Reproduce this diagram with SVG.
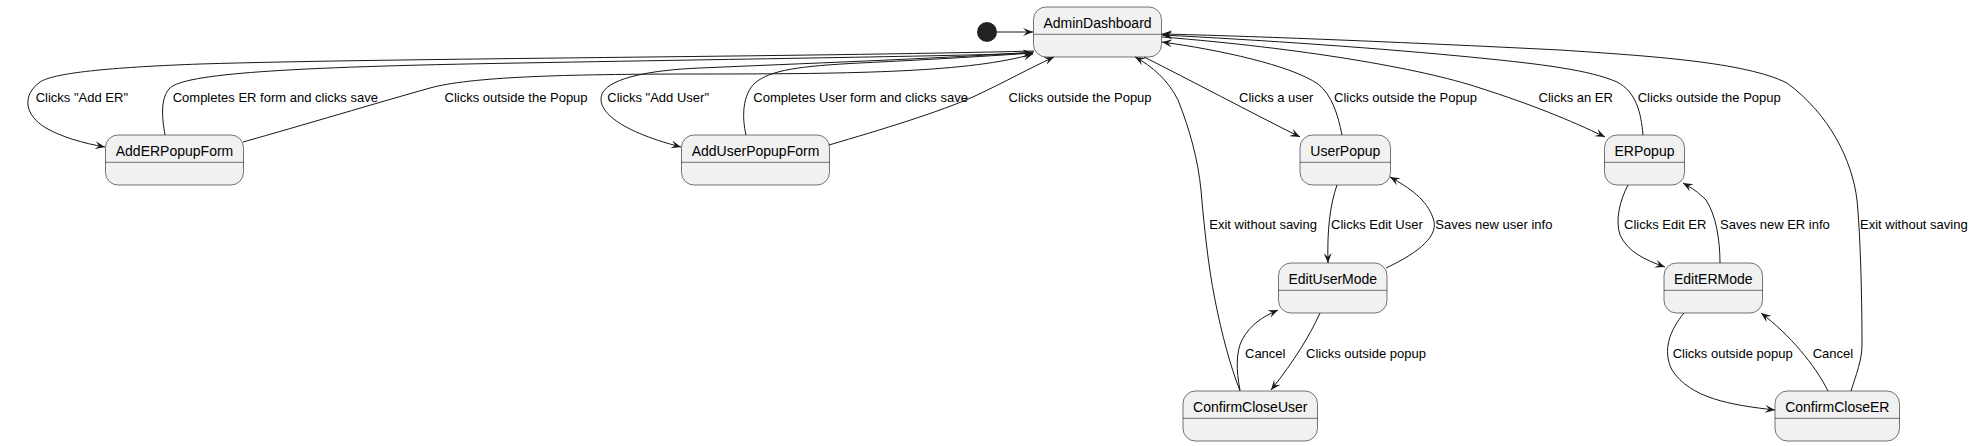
<svg xmlns="http://www.w3.org/2000/svg" width="1974" height="446" viewBox="0 0 1974 446">
<style>
.node rect{fill:#F1F1F1;stroke:#181818;stroke-width:0.6}
.node line{stroke:#181818;stroke-width:0.6}
.node text{font-family:"Liberation Sans",Arial,sans-serif;font-size:14px;fill:#000;text-anchor:middle}
.edges path{fill:none;stroke:#181818;stroke-width:1}
.lbl{font-family:"Liberation Sans",Arial,sans-serif;font-size:13px;fill:#000}
</style>
<defs>
<marker id="arr" viewBox="0 0 10 8" refX="10" refY="4" markerWidth="10" markerHeight="8" orient="auto" markerUnits="userSpaceOnUse">
<path d="M0,0 L10,4 L0,8 L4,4 Z" fill="#181818"/>
</marker>
</defs>
<rect width="1974" height="446" fill="#FFFFFF"/>
<g id="start"><circle cx="987" cy="32" r="10" fill="#222222"/></g>
<g id="AdminDashboard" class="node"><rect x="1033.5" y="7" width="128" height="50" rx="12.5"/><line x1="1033.5" y1="34.3" x2="1161.5" y2="34.3"/><text x="1097.5" y="28">AdminDashboard</text></g>
<g id="AddERPopupForm" class="node"><rect x="105.5" y="135" width="138" height="50" rx="12.5"/><line x1="105.5" y1="162.3" x2="243.5" y2="162.3"/><text x="174.5" y="156">AddERPopupForm</text></g>
<g id="AddUserPopupForm" class="node"><rect x="681.5" y="135" width="148" height="50" rx="12.5"/><line x1="681.5" y1="162.3" x2="829.5" y2="162.3"/><text x="755.5" y="156">AddUserPopupForm</text></g>
<g id="UserPopup" class="node"><rect x="1300" y="135" width="90.5" height="50" rx="12.5"/><line x1="1300" y1="162.3" x2="1390.5" y2="162.3"/><text x="1345.3" y="156">UserPopup</text></g>
<g id="ERPopup" class="node"><rect x="1604.5" y="135" width="80" height="50" rx="12.5"/><line x1="1604.5" y1="162.3" x2="1684.5" y2="162.3"/><text x="1644.5" y="156">ERPopup</text></g>
<g id="EditUserMode" class="node"><rect x="1278.5" y="263" width="108.5" height="50" rx="12.5"/><line x1="1278.5" y1="290.3" x2="1387" y2="290.3"/><text x="1332.8" y="284">EditUserMode</text></g>
<g id="EditERMode" class="node"><rect x="1664" y="263" width="98.5" height="50" rx="12.5"/><line x1="1664" y1="290.3" x2="1762.5" y2="290.3"/><text x="1713.3" y="284">EditERMode</text></g>
<g id="ConfirmCloseUser" class="node"><rect x="1183" y="391" width="134.5" height="50" rx="12.5"/><line x1="1183" y1="418.3" x2="1317.5" y2="418.3"/><text x="1250.3" y="412">ConfirmCloseUser</text></g>
<g id="ConfirmCloseER" class="node"><rect x="1775" y="391" width="124.5" height="50" rx="12.5"/><line x1="1775" y1="418.3" x2="1899.5" y2="418.3"/><text x="1837.3" y="412">ConfirmCloseER</text></g>
<g id="connectors" class="edges">
<path marker-end="url(#arr)" d="M997,32 L1033,32"/>
<path marker-end="url(#arr)" d="M1034,51 C 800,57 400,58 200,64 C 120,67 55,72 40,82 C 22,95 24,115 46,128 C 62,137 82,143 105,147"/>
<path marker-end="url(#arr)" d="M165,135 C 162,118 160,98 170,88 C 185,74 280,67 520,63 C 800,58 960,56 1033,53"/>
<path marker-end="url(#arr)" d="M243,142 C 300,126 380,102 430,88 C 470,77 560,74 700,74 C 860,74 970,72 1033,54"/>
<path marker-end="url(#arr)" d="M1034,52 C 950,58 840,62 700,68 C 650,70 612,78 603,92 C 594,108 615,130 681,147"/>
<path marker-end="url(#arr)" d="M746,135 C 742,118 742,95 755,83 C 770,70 800,66 860,63 C 940,59 990,56 1033,53"/>
<path marker-end="url(#arr)" d="M829,145 C 880,130 940,112 975,96 C 1005,82 1030,68 1054,57"/>
<path marker-end="url(#arr)" d="M1144,57 C 1190,80 1250,112 1300,137"/>
<path marker-end="url(#arr)" d="M1342,135 C 1338,115 1332,95 1318,84 C 1290,65 1220,50 1162,42"/>
<path marker-end="url(#arr)" d="M1162,37 C 1300,48 1420,68 1480,88 C 1530,104 1570,120 1605,137"/>
<path marker-end="url(#arr)" d="M1643,135 C 1641,112 1636,92 1617,82 C 1590,70 1540,64 1480,58 C 1380,48 1260,40 1162,35"/>
<path marker-end="url(#arr)" d="M1851,391 C 1856,375 1862,360 1862,345 C 1862,290 1860,230 1857,200 C 1852,160 1830,115 1787,83 C 1745,62 1650,56 1560,50 C 1400,42 1250,36 1162,34"/>
<path marker-end="url(#arr)" d="M1240,391 C 1230,365 1222,335 1215,300 C 1208,265 1204,225 1201,190 C 1198,160 1190,130 1178,100 C 1168,80 1152,66 1135,57"/>
<path marker-end="url(#arr)" d="M1337,185 C 1330,205 1327,230 1328,263"/>
<path marker-end="url(#arr)" d="M1386,268 C 1420,252 1440,235 1433,218 C 1427,200 1410,188 1390,177"/>
<path marker-end="url(#arr)" d="M1320,313 C 1310,335 1295,360 1271,390"/>
<path marker-end="url(#arr)" d="M1240,390 C 1236,370 1236,352 1242,340 C 1250,325 1262,317 1278,310"/>
<path marker-end="url(#arr)" d="M1628,185 C 1620,200 1615,220 1620,235 C 1628,252 1645,260 1665,267"/>
<path marker-end="url(#arr)" d="M1720,263 C 1720,240 1716,215 1706,200 C 1698,192 1692,188 1683,183"/>
<path marker-end="url(#arr)" d="M1684,313 C 1670,330 1662,350 1672,370 C 1690,398 1730,405 1775,410"/>
<path marker-end="url(#arr)" d="M1828,391 C 1815,365 1790,335 1761,313"/>
</g>
<g id="labels">
<text class="lbl" x="35.7" y="101.5">Clicks "Add ER"</text>
<text class="lbl" x="172.7" y="101.5">Completes ER form and clicks save</text>
<text class="lbl" x="444.5" y="101.5">Clicks outside the Popup</text>
<text class="lbl" x="607.3" y="101.5">Clicks "Add User"</text>
<text class="lbl" x="753.3" y="101.5">Completes User form and clicks save</text>
<text class="lbl" x="1008.5" y="101.5">Clicks outside the Popup</text>
<text class="lbl" x="1239" y="101.5">Clicks a user</text>
<text class="lbl" x="1334" y="101.5">Clicks outside the Popup</text>
<text class="lbl" x="1538.5" y="101.5">Clicks an ER</text>
<text class="lbl" x="1637.7" y="101.5">Clicks outside the Popup</text>
<text class="lbl" x="1209.3" y="229.3">Exit without saving</text>
<text class="lbl" x="1331" y="229.3">Clicks Edit User</text>
<text class="lbl" x="1435.3" y="229.3">Saves new user info</text>
<text class="lbl" x="1624" y="229.3">Clicks Edit ER</text>
<text class="lbl" x="1720" y="229.3">Saves new ER info</text>
<text class="lbl" x="1860" y="229.3">Exit without saving</text>
<text class="lbl" x="1245" y="357.5">Cancel</text>
<text class="lbl" x="1306" y="357.5">Clicks outside popup</text>
<text class="lbl" x="1672.7" y="357.5">Clicks outside popup</text>
<text class="lbl" x="1812.7" y="357.5">Cancel</text>
</g>
</svg>
